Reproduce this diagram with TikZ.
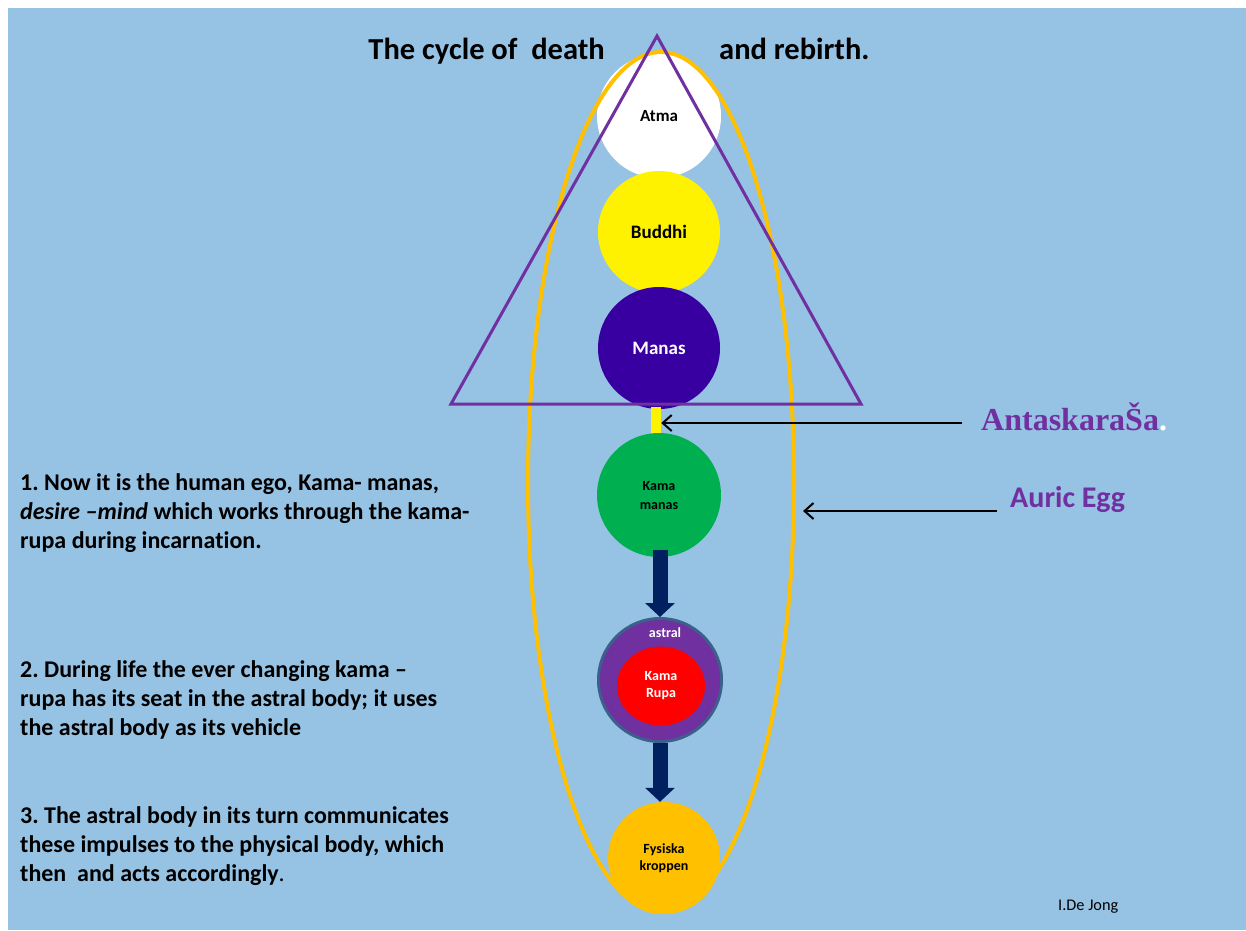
\documentclass[tikz,border=0pt]{standalone}
\usepackage{fontspec}
\setmainfont{Carlito}[Ligatures={CommonOff,TeX}]
\newfontfamily\timesf{Liberation Serif}
\usetikzlibrary{arrows.meta,shapes.geometric,calc}
\definecolor{bg}{RGB}{150,194,228}
\definecolor{manasc}{RGB}{56,0,160}
\definecolor{greenc}{HTML}{00B050}
\definecolor{navy}{HTML}{002060}
\definecolor{purp}{HTML}{7030A0}
\definecolor{gold}{HTML}{FFC000}
\definecolor{astralrim}{RGB}{60,95,140}
\begin{document}
\frenchspacing
\begin{tikzpicture}[x=1pt,y=-1pt,
  orb/.style={circle, inner sep=0pt, minimum size=#1, align=center},
  bigf/.style={font=\bfseries\fontsize{19}{21}\selectfont},
  smallf/.style={font=\bfseries\fontsize{14}{17}\selectfont},
  para/.style={anchor=north west, inner sep=0pt, align=left, font=\bfseries\fontsize{24}{29}\selectfont},
  blockarrow/.style={navy, line width=15pt, -{Triangle[length=14pt,width=29pt]}},
  pointer/.style={black, line width=2pt, -{Straight Barb[length=9pt,width=16pt]}},
  titlef/.style={inner sep=0pt, font=\bfseries\fontsize{30.5}{36}\selectfont}]
\useasboundingbox (0,0) rectangle (1246,930);
\fill[white] (0,0) rectangle (1246,930);
\fill[bg] (8,8) rectangle (1246,930);

% upper principles
\node[orb=124pt, fill=white, font=\bfseries\fontsize{17}{20}\selectfont] (atma) at (659,116) {Atma};
\node[orb=122pt, fill=yellow, bigf] (buddhi) at (659,232) {Buddhi};
\node[orb=122pt, fill=manasc, text=white, bigf] (manas) at (659,348) {Manas};

% auric egg
\node[ellipse, draw=gold, line width=4pt, inner sep=0pt, minimum width=266pt, minimum height=860pt] (egg) at (661,482) {};

% triangle
\draw[purp, line width=3pt] (657,36) -- (861,404) -- (451,404) -- cycle;

% antaskarana bar
\node[fill=yellow, inner sep=0pt, minimum width=10pt, minimum height=28pt] (bar) at (656,421) {};

% kama manas
\node[orb=124pt, fill=greenc, font=\bfseries\fontsize{14}{19}\selectfont] (kama) at (659,495) {Kama\\manas};

% astral body
\node[circle, fill=purp, draw=astralrim, line width=3pt, minimum size=123pt, inner sep=0pt] (astral) at (660,680) {};
\node[ellipse, fill=red, text=white, minimum width=88pt, minimum height=79pt, inner sep=0pt, align=center, smallf] (rupa) at (661,686) {Kama\\Rupa};
\node[text=white, inner sep=0pt, smallf] (astrallbl) at (665,633) {astral};

% physical body
\node[orb=112pt, fill=gold, smallf] (fys) at (664,858) {Fysiska\\kroppen};

% block arrows
\draw[blockarrow] ([yshift=7pt]astral.north |- kama.south) -- (astral.north);
\draw[blockarrow] (astral.south) -- (astral.south |- fys.north);

% title
\node[titlef, anchor=base east] (t1) at (605,59) {The cycle of\ \ death};
\node[titlef, anchor=base west] (t2) at (719,59) {and rebirth.};

% right labels
\node[anchor=base west, inner sep=0pt, text=purp, font=\timesf\bfseries\fontsize{32}{36}\selectfont] (ant) at (981,430) {AntaskaraŠa\textcolor{white}{.}};
\node[anchor=base west, inner sep=0pt, text=purp, font=\bfseries\fontsize{30}{36}\selectfont] (auric) at (1010,507) {Auric Egg};
\coordinate (antstart) at (962,423);
\coordinate (auricstart) at (997,511);
\draw[pointer] (antstart) -- (antstart -| bar.east);
\draw[pointer] (auricstart) -- ($(auricstart -| egg.east)+(7,0)$);

% left paragraphs
\node[para] (p1) at (20,473) {1. Now it is the human ego, Kama- manas,\\\textit{desire --mind} which works through the kama-\\rupa during incarnation.};
\node[para] (p2) at (20,660) {2. During life the ever changing kama --\\rupa has its seat in the astral body; it uses\\the astral body as its vehicle};
\node[para] (p3) at (20,806) {3. The astral body in its turn communicates\\these impulses to the physical body, which\\then\ \ and acts accordingly\textmd{.}};

% signature
\node[anchor=base west, inner sep=0pt, font=\fontsize{16.3}{19}\selectfont] (sig) at (1058,910) {I.De Jong};
\end{tikzpicture}
\end{document}
